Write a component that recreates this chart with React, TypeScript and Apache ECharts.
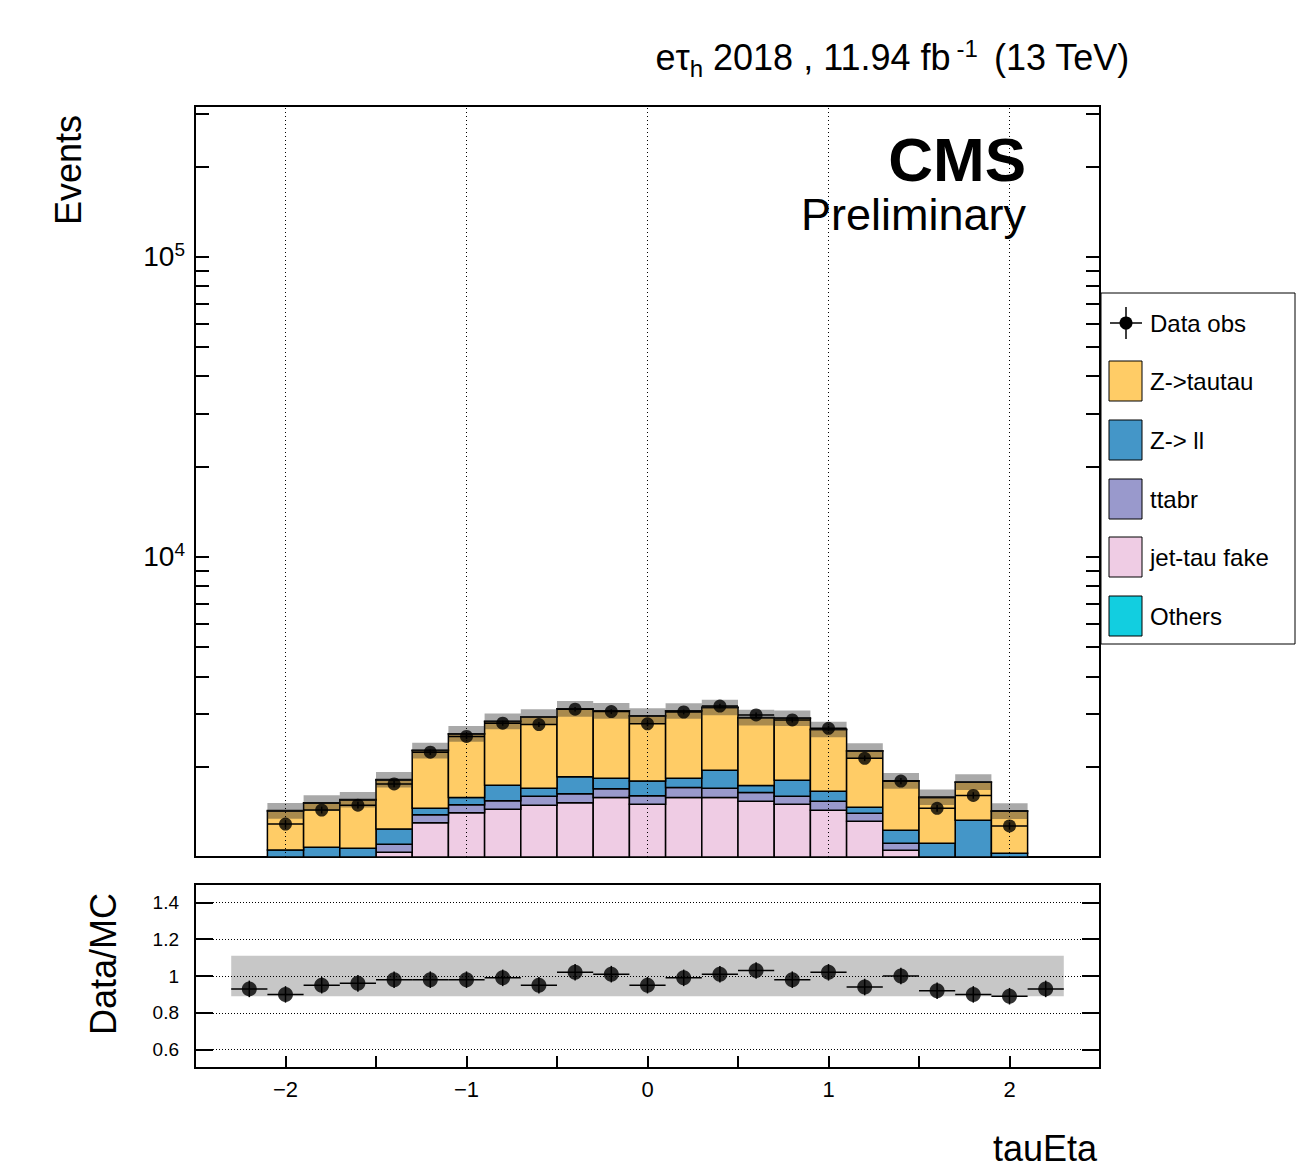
import React, { useRef, useEffect } from 'react';
import * as echarts from 'echarts';

// bin centres (width 0.2)
const binCenters = [-2.0, -1.8, -1.6, -1.4, -1.2, -1.0, -0.8, -0.6, -0.4, -0.2, 0.0, 0.2, 0.4, 0.6, 0.8, 1.0, 1.2, 1.4, 1.6, 1.8, 2.0, 2.2];
const jetTauFake = [500, 520, 520, 1037, 1301, 1405, 1443, 1488, 1517, 1580, 1498, 1580, 1580, 1533, 1498, 1431, 1315, 1053, 600, 500, 400, 200];
const ttbar = [100, 100, 100, 65, 82, 89, 98, 105, 109, 109, 102, 123, 114, 106, 95, 102, 83, 58, 100, 100, 80, 50];
const zll = [455, 457, 449, 138, 70, 86, 194, 101, 226, 140, 191, 126, 252, 91, 209, 124, 66, 116, 411, 725, 549, 100];
const ztautau = [368, 433, 480, 567, 809, 991, 1095, 1231, 1263, 1240, 1159, 1237, 1203, 1183, 1098, 1002, 791, 564, 469, 449, 391, 200];
const others = [5, 5, 5, 5, 5, 5, 5, 5, 5, 5, 5, 5, 5, 5, 5, 5, 5, 5, 5, 5, 5, 5];

const dataX = [-2.0, -1.8, -1.6, -1.4, -1.2, -1.0, -0.8, -0.6, -0.4, -0.2, 0.0, 0.2, 0.4, 0.6, 0.8, 1.0, 1.2, 1.4, 1.6, 1.8, 2.0];
const dataObs = [1288, 1434, 1488, 1751, 2235, 2522, 2792, 2763, 3108, 3052, 2779, 3042, 3185, 2975, 2861, 2684, 2133, 1791, 1453, 1604, 1269];

const ratioX = [-2.2, -2.0, -1.8, -1.6, -1.4, -1.2, -1.0, -0.8, -0.6, -0.4, -0.2, 0.0, 0.2, 0.4, 0.6, 0.8, 1.0, 1.2, 1.4, 1.6, 1.8, 2.0, 2.2];
const ratio = [0.93, 0.90, 0.95, 0.96, 0.98, 0.98, 0.98, 0.99, 0.95, 1.02, 1.01, 0.95, 0.99, 1.01, 1.03, 0.98, 1.02, 0.94, 1.0, 0.92, 0.90, 0.89, 0.93];

const procs = [
  { name: 'jet-tau fake', vals: jetTauFake, color: '#efcce4' },
  { name: 'ttabr', vals: ttbar, color: '#9999cc' },
  { name: 'Z-> ll', vals: zll, color: '#4496c8' },
  { name: 'Z->tautau', vals: ztautau, color: '#ffcc66' },
  { name: 'Others', vals: others, color: '#12cee0' },
];

const rectItem = (fill: string, stroke: string | null) => (params: any, api: any) => {
  const p0 = api.coord([api.value(0), api.value(3)]);
  const p1 = api.coord([api.value(1), api.value(2)]);
  return {
    type: 'rect',
    shape: { x: p0[0], y: p0[1], width: p1[0] - p0[0], height: p1[1] - p0[1] },
    style: { fill, stroke: stroke || 'none', lineWidth: stroke ? 1.5 : 0 },
  };
};

const errItem = (params: any, api: any) => {
  const x = api.value(0), y = api.value(1), xe = api.value(2), lo = api.value(3), hi = api.value(4);
  const a = api.coord([x - xe, y]), b = api.coord([x + xe, y]);
  const c = api.coord([x, lo]), d = api.coord([x, hi]);
  const st = { stroke: '#000', lineWidth: 1.5 };
  return {
    type: 'group',
    children: [
      { type: 'line', shape: { x1: a[0], y1: a[1], x2: b[0], y2: b[1] }, style: st },
      { type: 'line', shape: { x1: c[0], y1: c[1], x2: d[0], y2: d[1] }, style: st },
    ],
  };
};

export default function App() {
  const ref = useRef<HTMLDivElement>(null);

  useEffect(() => {
    if (!ref.current) return;
    const chart = echarts.init(ref.current, null, { renderer: 'svg' });

    // cumulative stack
    const cum = binCenters.map(() => 0);
    const stackSeries: any[] = [];
    procs.forEach((p) => {
      const items = binCenters.map((c, i) => {
        const lo = cum[i];
        cum[i] += p.vals[i];
        return [c - 0.1, c + 0.1, Math.max(lo, 1000), Math.max(cum[i], 1000)];
      });
      stackSeries.push({
        type: 'custom', xAxisIndex: 0, yAxisIndex: 0, clip: true,
        renderItem: rectItem(p.color, '#000'), encode: { x: [0, 1], y: [2, 3] }, data: items, z: 2,
      });
    });
    const uncItems = binCenters.map((c, i) => [c - 0.1, c + 0.1, Math.max(cum[i] * 0.94, 1000), Math.max(cum[i] * 1.06, 1000)]);

    const minorVals: number[] = [];
    [1000, 10000, 100000].forEach((d) => { for (let k = 1; k <= 9; k++) if (d * k <= 318000) minorVals.push(d * k); });
    const xTicks = [-2.5, -2, -1.5, -1, -0.5, 0, 0.5, 1, 1.5, 2, 2.5];
    const font = 'Liberation Sans';
    const line = { onZero: false, lineStyle: { color: '#000', width: 2 } };

    const option: any = {
      animation: false,
      textStyle: { fontFamily: font },
      grid: [
        { left: 195, width: 905, top: 106, height: 751, show: true, borderColor: '#000', borderWidth: 2, backgroundColor: 'transparent' },
        { left: 195, width: 905, top: 884, height: 184, show: true, borderColor: '#000', borderWidth: 2, backgroundColor: 'transparent' },
      ],
      xAxis: [
        { type: 'value', gridIndex: 0, min: -2.5, max: 2.5, axisLabel: { show: false }, splitLine: { show: false },
          axisLine: line,
          axisTick: { inside: true, length: 16, customValues: xTicks, lineStyle: { color: '#000', width: 2 } } },
        { type: 'value', gridIndex: 1, min: -2.5, max: 2.5, splitLine: { show: false },
          axisLine: line,
          axisTick: { inside: true, length: 12, customValues: xTicks, lineStyle: { color: '#000', width: 2 } },
          axisLabel: { customValues: [-2, -1, 0, 1, 2], fontSize: 22, color: '#000', margin: 10,
            formatter: (v: number) => (v < 0 ? '\u2212' + Math.abs(v) : String(v)) } },
      ],
      yAxis: [
        { type: 'log', gridIndex: 0, min: 1000, max: 318000, splitLine: { show: false },
          axisLine: line,
          axisTick: { inside: true, length: 14, customValues: minorVals, lineStyle: { color: '#000', width: 2 } },
          axisLabel: { customValues: [10000, 100000], color: '#000', fontSize: 28, margin: 10,
            formatter: (v: number) => (v >= 100000 ? '10{s|5}' : '10{s|4}'),
            rich: { s: { fontSize: 19, verticalAlign: 'top', padding: [0, 0, 14, 0] } } } },
        { type: 'log', gridIndex: 0, position: 'right', min: 1000, max: 318000, splitLine: { show: false },
          axisLine: line,
          axisTick: { inside: true, length: 14, customValues: minorVals, lineStyle: { color: '#000', width: 2 } },
          axisLabel: { show: false } },
        { type: 'value', gridIndex: 1, min: 0.5, max: 1.5, splitLine: { show: false },
          axisLine: line,
          axisTick: { inside: true, length: 18, customValues: [0.6, 0.8, 1.0, 1.2, 1.4], lineStyle: { color: '#000', width: 2 } },
          axisLabel: { customValues: [0.6, 0.8, 1.0, 1.2, 1.4], fontSize: 19, color: '#000', margin: 16 } },
        { type: 'value', gridIndex: 1, position: 'right', min: 0.5, max: 1.5, splitLine: { show: false },
          axisLine: line,
          axisTick: { inside: true, length: 18, customValues: [0.6, 0.8, 1.0, 1.2, 1.4], lineStyle: { color: '#000', width: 2 } },
          axisLabel: { show: false } },
      ],
      series: [
        { type: 'line', xAxisIndex: 0, yAxisIndex: 0, data: [], silent: true,
          markLine: { symbol: 'none', silent: true, label: { show: false },
            lineStyle: { color: '#000', type: [1, 3], width: 1 },
            data: [-2, -1, 0, 1, 2].map((v) => ({ xAxis: v })) } },
        ...stackSeries,
        { type: 'custom', xAxisIndex: 0, yAxisIndex: 0, clip: true, renderItem: rectItem('rgba(40,40,40,0.4)', null),
          encode: { x: [0, 1], y: [2, 3] }, data: uncItems, z: 3 },
        { type: 'custom', xAxisIndex: 0, yAxisIndex: 0, renderItem: errItem, z: 4,
          data: dataX.map((x, i) => [x, dataObs[i], 0.1, dataObs[i] - Math.sqrt(dataObs[i]), dataObs[i] + Math.sqrt(dataObs[i])]) },
        { type: 'scatter', xAxisIndex: 0, yAxisIndex: 0, symbolSize: 13, itemStyle: { color: '#000' }, z: 5,
          data: dataX.map((x, i) => [x, dataObs[i]]) },
        // ratio panel
        { type: 'line', xAxisIndex: 1, yAxisIndex: 2, data: [], silent: true,
          markLine: { symbol: 'none', silent: true, label: { show: false },
            lineStyle: { color: '#000', type: [1, 2], width: 1 },
            data: [0.6, 0.8, 1.0, 1.2, 1.4].map((v) => ({ yAxis: v })) } },
        { type: 'custom', xAxisIndex: 1, yAxisIndex: 2, clip: true, renderItem: rectItem('rgba(0,0,0,0.22)', null),
          encode: { x: [0, 1], y: [2, 3] }, data: [[-2.3, 2.3, 0.89, 1.11]], z: 2 },
        { type: 'custom', xAxisIndex: 1, yAxisIndex: 2, renderItem: errItem, z: 4,
          data: ratioX.map((x, i) => [x, ratio[i], 0.1, ratio[i] - 0.045, ratio[i] + 0.045]) },
        { type: 'scatter', xAxisIndex: 1, yAxisIndex: 2, symbolSize: 15, itemStyle: { color: '#000' }, z: 5,
          data: ratioX.map((x, i) => [x, ratio[i]]) },
      ],
      graphic: [
        { type: 'text', right: 166, top: 36, style: {
          text: 'e{g|\u03c4}{sub|h} 2018 , 11.94 fb{sup|-1} (13 TeV)', fontSize: 36, fontFamily: font, fill: '#000',
          rich: { g: { fontSize: 36, fontFamily: font }, sub: { fontSize: 24, padding: [22, 0, 0, 0], fontFamily: font },
            sup: { fontSize: 24, padding: [0, 6, 18, 6], fontFamily: font } } } },
        { type: 'text', x: 1026, y: 128, style: { text: 'CMS', fontSize: 62, fontWeight: 'bold', fontFamily: font, fill: '#000', align: 'right' } },
        { type: 'text', x: 1026, y: 192, style: { text: 'Preliminary', fontSize: 45, fontFamily: font, fill: '#000', align: 'right' } },
        { type: 'text', x: 68, y: 170, rotation: Math.PI / 2, style: { text: 'Events', fontSize: 36, fontFamily: font, fill: '#000', align: 'center', verticalAlign: 'middle' } },
        { type: 'text', x: 103, y: 964, rotation: Math.PI / 2, style: { text: 'Data/MC', fontSize: 36, fontFamily: font, fill: '#000', align: 'center', verticalAlign: 'middle' } },
        { type: 'text', x: 1097, y: 1148, style: { text: 'tauEta', fontSize: 36, fontFamily: font, fill: '#000', align: 'right', verticalAlign: 'middle' } },
        // legend box
        { type: 'rect', shape: { x: 1101, y: 293, width: 194, height: 351 }, style: { fill: '#fff', stroke: '#000', lineWidth: 1 } },
        { type: 'line', shape: { x1: 1110, y1: 323, x2: 1142, y2: 323 }, style: { stroke: '#000', lineWidth: 1.5 } },
        { type: 'line', shape: { x1: 1126, y1: 307, x2: 1126, y2: 339 }, style: { stroke: '#000', lineWidth: 1.5 } },
        { type: 'circle', shape: { cx: 1126, cy: 323, r: 6.5 }, style: { fill: '#000' } },
        { type: 'text', x: 1150, y: 323, style: { text: 'Data obs', fontSize: 24, fontFamily: font, fill: '#000', verticalAlign: 'middle' } },
        ...[
          { name: 'Z->tautau', color: '#ffcc66', y: 381 },
          { name: 'Z-> ll', color: '#4496c8', y: 440 },
          { name: 'ttabr', color: '#9999cc', y: 499 },
          { name: 'jet-tau fake', color: '#efcce4', y: 557 },
          { name: 'Others', color: '#12cee0', y: 616 },
        ].flatMap((e) => [
          { type: 'rect', shape: { x: 1109, y: e.y - 20, width: 33, height: 40 }, style: { fill: e.color, stroke: '#000', lineWidth: 1 } },
          { type: 'text', x: 1150, y: e.y, style: { text: e.name, fontSize: 24, fontFamily: font, fill: '#000', verticalAlign: 'middle' } },
        ]),
      ],
    };

    chart.setOption(option);
    return () => chart.dispose();
  }, []);

  return <div ref={ref} style={{ position: 'fixed', left: 0, top: 0, width: 1296, height: 1172, background: '#fff' }} />;
}
